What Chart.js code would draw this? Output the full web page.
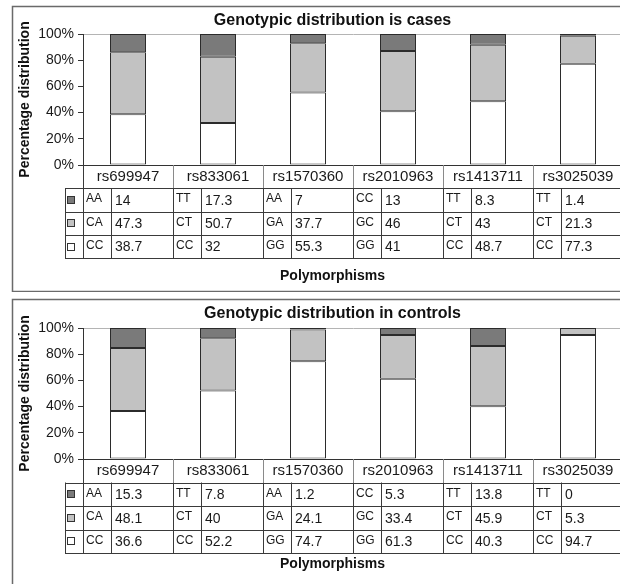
<!DOCTYPE html>
<html>
<head>
<meta charset="utf-8">
<script src="https://cdn.jsdelivr.net/npm/chart.js@4.4.1/dist/chart.umd.min.js"></script>
<style>
  html, body { margin: 0; padding: 0; background: #fff; overflow: hidden; }
  canvas { position: absolute; left: 0; }
  #cases { top: 0; }
  #controls { top: 292px; }
</style>
</head>
<body>
<canvas id="cases" width="653" height="292"></canvas>
<canvas id="controls" width="653" height="292"></canvas>
<script>
// polymorphisms on the x axis
const categories = ['rs699947', 'rs833061', 'rs1570360', 'rs2010963', 'rs1413711', 'rs3025039'];
const yTicks = [0, 20, 40, 60, 80, 100];

// genotype names per polymorphism (top / middle / bottom segment)
const topGenotype = ['AA', 'TT', 'AA', 'CC', 'TT', 'TT'];
const midGenotype = ['CA', 'CT', 'GA', 'GC', 'CT', 'CT'];
const lowGenotype = ['CC', 'CC', 'GG', 'GG', 'CC', 'CC'];

// percentages, cases
const casesTop = [14, 17.3, 7, 13, 8.3, 1.4];
const casesMid = [47.3, 50.7, 37.7, 46, 43, 21.3];
const casesLow = [38.7, 32, 55.3, 41, 48.7, 77.3];

// percentages, controls
const controlsTop = [15.3, 7.8, 1.2, 5.3, 13.8, 0];
const controlsMid = [48.1, 40, 24.1, 33.4, 45.9, 5.3];
const controlsLow = [36.6, 52.2, 74.7, 61.3, 40.3, 94.7];

const FONT = "'Liberation Sans', Arial, sans-serif";
const DARK = '#7a7a7a';
const GREY = '#c2c2c2';
const WHITE = '#ffffff';
const EDGE = '#2b2b2b';

function framePlugin(frameTop, frameBottom) {
  return {
    id: 'frame',
    beforeDraw(chart) {
      const ctx = chart.ctx;
      ctx.save();
      ctx.fillStyle = '#fff';
      ctx.fillRect(0, 0, chart.width, chart.height);
      ctx.strokeStyle = '#6a6a6a';
      ctx.lineWidth = 1.5;
      ctx.strokeRect(12.5, frameTop + 0.5, chart.width + 20, frameBottom - frameTop);
      ctx.restore();
    }
  };
}

// data table under the plot, built from the same arrays as the bars
function tablePlugin(rows, rowH) {
  return {
    id: 'genoTable',
    afterDraw(chart) {
      const ctx = chart.ctx;
      const x = chart.scales.x;
      const top = chart.chartArea.bottom;
      const n = categories.length;
      const colW = (x.right - x.left) / n;
      const legL = x.left - 18;
      const bottom = top + rowH * (rows.length + 1);
      ctx.save();
      ctx.lineWidth = 1;

      // header separators
      ctx.strokeStyle = '#8a8a8a';
      ctx.beginPath();
      for (let i = 1; i <= n; i++) {
        const cx = Math.round(x.left + i * colW) + 0.5;
        ctx.moveTo(cx, top);
        ctx.lineTo(cx, top + rowH);
      }
      ctx.stroke();

      ctx.strokeStyle = '#3a3a3a';
      ctx.beginPath();
      for (let k = 1; k <= rows.length + 1; k++) {
        const y = Math.round(top + k * rowH) + 0.5;
        ctx.moveTo(legL, y);
        ctx.lineTo(x.right, y);
      }
      const l = Math.round(legL) + 0.5;
      ctx.moveTo(l, top + rowH);
      ctx.lineTo(l, bottom);
      const a = Math.round(x.left) + 0.5;
      ctx.moveTo(a, top);
      ctx.lineTo(a, bottom);
      for (let i = 0; i < n; i++) {
        const c0 = Math.round(x.left + i * colW) + 0.5;
        const c1 = Math.round(x.left + i * colW + 28) + 0.5;
        if (i > 0) { ctx.moveTo(c0, top + rowH); ctx.lineTo(c0, bottom); }
        ctx.moveTo(c1, top + rowH);
        ctx.lineTo(c1, bottom);
      }
      ctx.stroke();

      rows.forEach((row, r) => {
        const mid = top + rowH * (r + 1.5);
        // legend key
        ctx.fillStyle = row.color;
        ctx.strokeStyle = '#333';
        ctx.fillRect(x.left - 15, Math.round(mid) - 3, 6, 6);
        ctx.strokeRect(x.left - 15.5, Math.round(mid) - 3.5, 7, 7);
        ctx.fillStyle = '#1a1a1a';
        ctx.textBaseline = 'middle';
        ctx.textAlign = 'left';
        for (let i = 0; i < n; i++) {
          const c0 = x.left + i * colW;
          ctx.font = '12px ' + FONT;
          ctx.fillText(row.names[i], c0 + 3, mid - 1);
          ctx.font = '14px ' + FONT;
          ctx.fillText(String(row.values[i]), c0 + 32, mid + 1);
        }
      });
      ctx.restore();
    }
  };
}

function makeChart(id, title, top, mid, low, geo) {
  const rows = [
    { names: topGenotype, values: top, color: DARK },
    { names: midGenotype, values: mid, color: GREY },
    { names: lowGenotype, values: low, color: WHITE }
  ];
  const bar = { borderColor: EDGE, borderWidth: 1, borderSkipped: false, barPercentage: 0.4, categoryPercentage: 1 };
  return new Chart(document.getElementById(id), {
    type: 'bar',
    data: {
      labels: categories,
      datasets: [
        Object.assign({ label: 'low', data: low, backgroundColor: WHITE }, bar),
        Object.assign({ label: 'mid', data: mid, backgroundColor: GREY }, bar),
        Object.assign({ label: 'top', data: top, backgroundColor: DARK }, bar)
      ]
    },
    options: {
      responsive: false,
      animation: false,
      devicePixelRatio: 1,
      layout: { padding: { left: 12, right: 0, top: geo.padTop, bottom: geo.padBottom } },
      plugins: {
        legend: { display: false },
        tooltip: { enabled: false },
        title: {
          display: true, text: title, color: '#111',
          font: { family: FONT, size: 16, weight: 'bold' },
          padding: geo.titlePad
        },
        subtitle: {
          display: true, text: 'Polymorphisms', position: 'bottom', color: '#111',
          font: { family: FONT, size: 14, weight: 'bold' },
          padding: geo.subPad
        }
      },
      scales: {
        x: {
          stacked: true,
          grid: { display: false, drawTicks: false },
          border: { display: true, color: '#333' },
          ticks: { color: '#1a1a1a', font: { family: FONT, size: 15 }, padding: 3, autoSkip: false, maxRotation: 0 },
          afterFit: s => { s.height = geo.xHeight; }
        },
        y: {
          stacked: true,
          min: 0,
          max: 100,
          afterBuildTicks: s => { s.ticks = yTicks.map(v => ({ value: v })); },
          grid: {
            color: c => (c.tick && c.tick.value === 100 ? '#b4b4b4' : 'rgba(0,0,0,0)'),
            tickColor: '#333',
            tickLength: 5
          },
          border: { color: '#333' },
          ticks: { color: '#1a1a1a', font: { family: FONT, size: 14 }, padding: 4, callback: v => v + '%' },
          title: {
            display: true, text: 'Percentage distribution', color: '#111',
            font: { family: FONT, size: 14, weight: 'bold' },
            padding: { top: 4.6, bottom: 0 }
          },
          afterFit: s => { s.width = 71; }
        },
        pad: {
          type: 'linear',
          position: 'right',
          grid: { display: false },
          ticks: { display: false },
          border: { display: false },
          afterFit: s => { s.width = 30; }
        }
      }
    },
    plugins: [framePlugin(geo.frameTop, geo.frameBottom), tablePlugin(rows, geo.rowH)]
  });
}

makeChart('cases', 'Genotypic distribution is cases', casesTop, casesMid, casesLow, {
  padTop: 6, padBottom: 6,
  titlePad: { top: 5.4, bottom: 3.4 },
  subPad: { top: 3, bottom: 1.6 },
  xHeight: 99.6, rowH: 23.3,
  frameTop: 6, frameBottom: 291
});

makeChart('controls', 'Genotypic distribution in controls', controlsTop, controlsMid, controlsLow, {
  padTop: 7, padBottom: 6,
  titlePad: { top: 5.4, bottom: 4.4 },
  subPad: { top: 2, bottom: 5.3 },
  xHeight: 94.9, rowH: 23.5,
  frameTop: 7, frameBottom: 320
});
</script>
</body>
</html>
